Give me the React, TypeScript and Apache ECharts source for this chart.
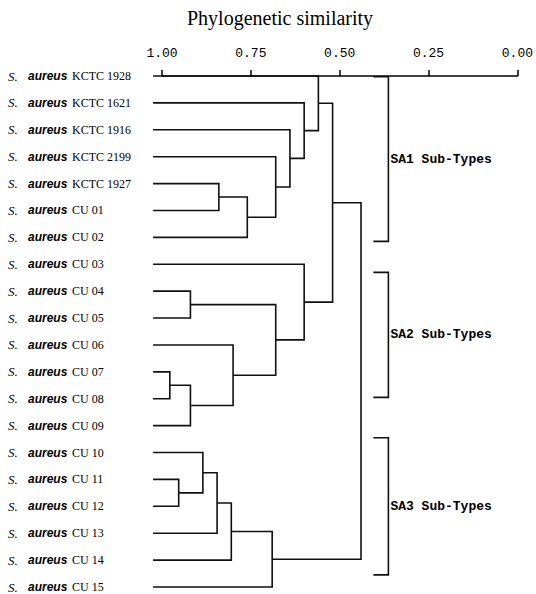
import React, { useEffect, useRef } from "react";
import * as echarts from "echarts";

// Leaf labels (top to bottom); each prefixed by "S. aureus"
const leaves: string[] = [
  "KCTC 1928", "KCTC 1621", "KCTC 1916", "KCTC 2199", "KCTC 1927",
  "CU 01", "CU 02", "CU 03", "CU 04", "CU 05", "CU 06", "CU 07", "CU 08",
  "CU 09", "CU 10", "CU 11", "CU 12", "CU 13", "CU 14", "CU 15",
];

// Merge steps: [childA, childB, similarity]; ids < 20 are leaves, id 20+k is merge k
const mergeA: number[] = [4, 20, 3, 2, 1, 0, 8, 11, 27, 10, 26, 7, 25, 15, 14, 34, 35, 36, 32];
const mergeB: number[] = [5, 6, 21, 22, 23, 24, 9, 12, 13, 28, 29, 30, 31, 16, 33, 17, 18, 19, 37];
const mergeSim: number[] = [0.84, 0.76, 0.68, 0.64, 0.60, 0.56, 0.92, 0.978, 0.92, 0.80, 0.68, 0.60, 0.52, 0.953, 0.885, 0.845, 0.805, 0.69, 0.44];

const leafStart = 1.025; // leaves drawn slightly left of 1.00

// Axis ticks
const xTicks: number[] = [1.0, 0.75, 0.5, 0.25, 0.0];

// Sub-type brackets (in leaf-index units)
const groupNames: string[] = ["SA1 Sub-Types", "SA2 Sub-Types", "SA3 Sub-Types"];
const groupFrom: number[] = [0.03, 7.3, 13.45];
const groupTo: number[] = [6.15, 11.95, 18.55];
const bracketX = 0.363;

export default function App() {
  const ref = useRef<HTMLDivElement>(null);

  useEffect(() => {
    if (!ref.current) return;
    const chart = echarts.init(ref.current, null, { renderer: "svg" });

    const n = leaves.length;
    const nodeX: number[] = [];
    const nodeY: number[] = [];
    for (let i = 0; i < n; i++) {
      nodeX[i] = leafStart;
      nodeY[i] = i;
    }
    for (let k = 0; k < mergeSim.length; k++) {
      nodeX[n + k] = mergeSim[k];
      nodeY[n + k] = (nodeY[mergeA[k]] + nodeY[mergeB[k]]) / 2;
    }

    const option: any = {
      animation: false,
      title: {
        text: "Phylogenetic similarity",
        left: 182,
        top: 3,
        textStyle: {
          fontFamily: "Liberation Serif",
          fontSize: 20,
          fontWeight: "normal",
          color: "#000",
        },
      },
      grid: { left: 162, right: 16, top: 76, bottom: 7 },
      xAxis: {
        type: "value",
        min: 0,
        max: 1,
        interval: 0.25,
        inverse: true,
        position: "top",
        offset: 6,
        axisLine: { show: true, lineStyle: { color: "#000", width: 1.5 } },
        axisTick: { show: true, length: 6, lineStyle: { color: "#000", width: 1.5 } },
        axisLabel: {
          margin: 10,
          color: "#000",
          fontFamily: "Liberation Mono",
          fontSize: 13,
          formatter: (v: number) => {
            const t = xTicks.find((x) => Math.abs(x - v) < 1e-6);
            return t === undefined ? "" : t.toFixed(2);
          },
        },
        splitLine: { show: false },
      },
      yAxis: [
        {
          type: "category",
          data: leaves,
          inverse: true,
          boundaryGap: false,
          axisLine: { show: false },
          axisTick: { show: false },
          splitLine: { show: false },
          axisLabel: {
            interval: 0,
            align: "left",
            margin: 154,
            color: "#000",
            formatter: (v: string) => `{s|S.}{a|aureus}{n|${v}}`,
            rich: {
              s: { fontFamily: "Liberation Serif", fontStyle: "italic", fontSize: 13, width: 20, color: "#000" },
              a: { fontFamily: "Liberation Sans", fontStyle: "italic", fontWeight: "bold", fontSize: 12, width: 44, color: "#000" },
              n: { fontFamily: "Liberation Serif", fontSize: 12, color: "#000" },
            },
          },
        },
        {
          type: "value",
          min: 0,
          max: n - 1,
          inverse: true,
          show: false,
        },
      ],
      series: [
        {
          type: "custom",
          yAxisIndex: 1,
          data: mergeSim.map((_, k) => [k]),
          renderItem: (params: any, api: any) => {
            const k = params.dataIndex;
            const a = mergeA[k];
            const b = mergeB[k];
            const s = mergeSim[k];
            const pts = [
              api.coord([nodeX[a], nodeY[a]]),
              api.coord([s, nodeY[a]]),
              api.coord([s, nodeY[b]]),
              api.coord([nodeX[b], nodeY[b]]),
            ];
            return {
              type: "polyline",
              shape: { points: pts },
              style: { stroke: "#111", lineWidth: 1.6, fill: null },
            };
          },
        },
        {
          type: "custom",
          yAxisIndex: 1,
          data: groupNames.map((_, g) => [g]),
          renderItem: (params: any, api: any) => {
            const g = params.dataIndex;
            const p1 = api.coord([bracketX, groupFrom[g]]);
            const p2 = api.coord([bracketX, groupTo[g]]);
            const x = p1[0];
            return {
              type: "group",
              children: [
                {
                  type: "polyline",
                  shape: {
                    points: [
                      [x - 15, p1[1]],
                      [x, p1[1]],
                      [x, p2[1]],
                      [x - 15, p2[1]],
                    ],
                  },
                  style: { stroke: "#111", lineWidth: 1.6, fill: null },
                },
                {
                  type: "text",
                  x: x + 2,
                  y: (p1[1] + p2[1]) / 2,
                  style: {
                    text: groupNames[g],
                    fontFamily: "Liberation Mono",
                    fontWeight: "bold",
                    fontSize: 13,
                    fill: "#000",
                    align: "left",
                    verticalAlign: "middle",
                  },
                },
              ],
            };
          },
        },
      ],
    };

    chart.setOption(option);
    return () => chart.dispose();
  }, []);

  return (
    <div
      ref={ref}
      style={{ position: "fixed", left: 0, top: 0, width: 536, height: 594, background: "#fff" }}
    />
  );
}
